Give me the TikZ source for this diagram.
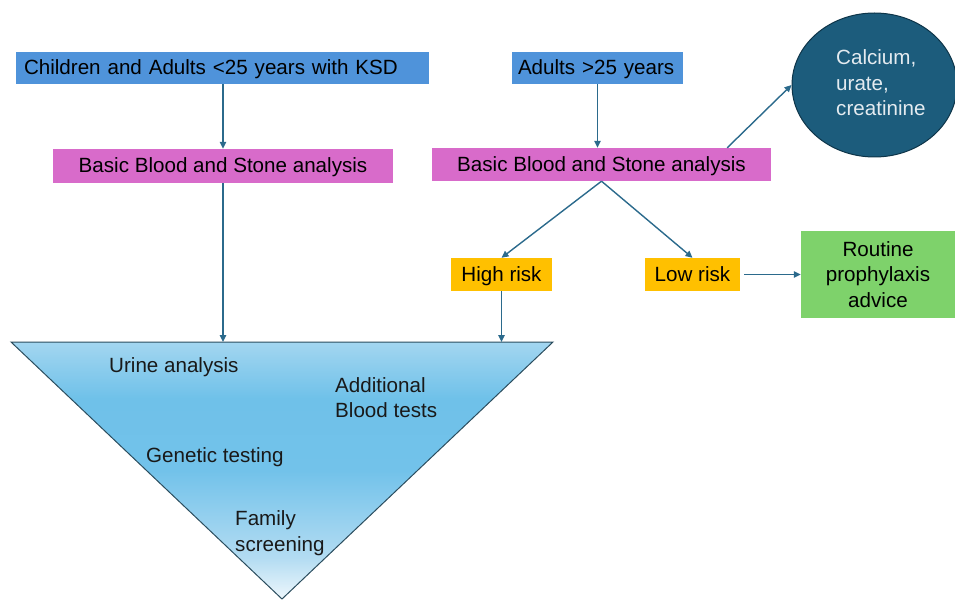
\documentclass[tikz,border=0pt]{standalone}
\usepackage{fontspec}
\setmainfont{Liberation Sans}
\usetikzlibrary{arrows.meta,shapes.geometric}
\definecolor{bluebox}{HTML}{4F93DA}
\definecolor{pinkbox}{HTML}{D86BCA}
\definecolor{orangebox}{HTML}{FFC000}
\definecolor{greenbox}{HTML}{7ED26B}
\definecolor{circfill}{HTML}{1C5C7C}
\definecolor{circline}{HTML}{0E3549}
\definecolor{circtext}{HTML}{E4EBF0}
\definecolor{arrowc}{HTML}{2B6A8C}
\definecolor{triline}{HTML}{2B4D5E}
\definecolor{tritop}{HTML}{A3D6F0}
\definecolor{trimid}{HTML}{6FC1E9}
\definecolor{trimidb}{HTML}{72C2EA}
\definecolor{trilow}{HTML}{B3DCF2}
\definecolor{tribot}{HTML}{EEF7FC}
\pgfdeclareverticalshading{trishade}{100bp}{color(0bp)=(tribot); color(25bp)=(tribot); color(33bp)=(trilow); color(50bp)=(trimidb); color(64bp)=(trimid); color(75bp)=(tritop); color(100bp)=(tritop)}
\tikzset{
  every node/.style={font=\fontsize{20.6}{25.5}\selectfont},
  box/.style={rectangle, inner sep=0pt, text=black, draw=none},
  oneline/.style={text height=16pt, text depth=2pt},
  conn/.style={draw=arrowc, line width=1.4pt, -{Triangle[length=7pt,width=6.5pt]}},
  tritext/.style={anchor=west, align=left, inner sep=0pt, text=black!90}
}
\begin{document}
\begin{tikzpicture}[x=1pt,y=-1pt]
\useasboundingbox (0,0) rectangle (955,601);
% triangle
\coordinate (tl) at (11,342);
\coordinate (tr) at (553,342);
\coordinate (apex) at (282,599);
\shadedraw[shading=trishade, draw=triline, line width=1pt, line join=miter] (tl) -- (tr) -- (apex) -- cycle;
\node[tritext] (urine) at (109,367) {Urine analysis};
\node[tritext] (addb) at (335,397.5) {Additional\\Blood tests};
\node[tritext] (gen) at (146,457) {Genetic testing};
\node[tritext] (fam) at (235,533) {Family\\screening};
% boxes
\node[box, oneline, fill=bluebox, minimum width=413pt, minimum height=32pt, text width=397pt, align=left] (kids) at (222.5,68) {Children and Adults <25 years with KSD};
\node[box, oneline, fill=pinkbox, minimum width=340pt, minimum height=34pt] (bbl) at (223,166) {Basic Blood and Stone analysis};
\node[box, oneline, fill=bluebox, minimum width=171pt, minimum height=32pt, text width=159pt, align=left] (adults) at (597.5,68) {Adults >25 years};
\node[box, oneline, fill=pinkbox, minimum width=339pt, minimum height=33pt] (bbr) at (601.5,164.5) {Basic Blood and Stone analysis};
\node[box, oneline, fill=orangebox, minimum width=101pt, minimum height=33pt] (high) at (501.5,274.5) {High risk};
\node[box, oneline, fill=orangebox, minimum width=95pt, minimum height=33pt] (low) at (692.5,274.5) {Low risk};
\node[box, fill=greenbox, minimum width=154pt, minimum height=87pt, align=center] (routine) at (878,274.5) {Routine\\prophylaxis\\advice};
\node[ellipse, fill=circfill, draw=circline, line width=1pt, minimum width=165pt, minimum height=144pt, inner sep=0pt] (circ) at (874.5,85) {};
\node[anchor=west, inner sep=0pt, text=circtext, align=left] (circtxt) at (836,83) {Calcium,\\urate,\\creatinine};
% connectors
\draw[conn] (bbl.north |- kids.south) -- (bbl.north);
\draw[conn] (bbl.south) -- (bbl.south |- tl);
\draw[conn] (adults.south) -- (adults.south |- bbr.north);
\draw[conn] ([xshift=-44pt]bbr.north east) -- (circ.west);
\draw[conn] (bbr.south) -- (high.north);
\draw[conn] (bbr.south) -- (low.north);
\draw[conn] ([xshift=4pt]low.east) -- (routine.west);
\draw[conn] (high.south) -- (high.south |- tl);
\end{tikzpicture}
\end{document}
